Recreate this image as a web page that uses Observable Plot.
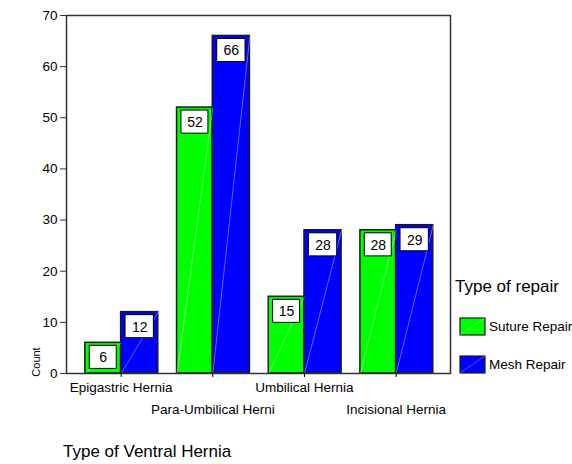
<!DOCTYPE html>
<html>
<head>
<meta charset="utf-8">
<script src="https://cdn.jsdelivr.net/npm/d3@7"></script>
<script src="https://cdn.jsdelivr.net/npm/@observablehq/plot@0.6"></script>
<style>
  html, body { margin: 0; padding: 0; background: #fff; }
  #wrap { position: relative; width: 572px; height: 464px; font-family: "Liberation Sans", Arial, sans-serif; }
  #wrap svg.overlay { position: absolute; left: 0; top: 0; pointer-events: none; }
</style>
</head>
<body>
<div id="wrap"></div>
<script>
const categories = ["Epigastric Hernia", "Para-Umbilical Herni", "Umbilical Hernia", "Incisional Hernia"];
const repairTypes = ["Suture Repair", "Mesh Repair"];
const sutureCounts = [6, 52, 15, 28];
const meshCounts = [12, 66, 28, 29];
const repairColors = ["#00ff00", "#0000ff"];
const yTicks = [0, 10, 20, 30, 40, 50, 60, 70];
const xTitle = "Type of Ventral Hernia";
const yTitle = "Count";
const legendTitle = "Type of repair";

const seriesValues = [sutureCounts, meshCounts];
const rows = [];
categories.forEach((category, i) => {
  repairTypes.forEach((type, j) => {
    rows.push({
      i, category, type,
      count: seriesValues[j][i],
      x1: j === 0 ? i - 0.39 : i,
      x2: j === 0 ? i : i + 0.405,
      xc: j === 0 ? i - 0.195 : i + 0.2025
    });
  });
});

const font = "'Liberation Sans', Arial, sans-serif";

const chart = Plot.plot({
  width: 572,
  height: 464,
  marginLeft: 66,
  marginRight: 122,
  marginTop: 15,
  marginBottom: 91,
  style: { fontFamily: font, fontSize: "13.5px", color: "#000", background: "#fff" },
  x: { type: "linear", domain: [-0.596, 3.593] },
  y: { domain: [0, 70] },
  color: { domain: repairTypes, range: repairColors },
  marks: [
    Plot.rect(rows, { x1: "x1", x2: "x2", y1: 0, y2: "count", fill: "type", stroke: "#1a1a1a", strokeWidth: 1.5 }),
    Plot.link(rows, { x1: "x1", y1: 0, x2: "x2", y2: "count", stroke: "#ffffff", strokeOpacity: 0.55, strokeWidth: 0.7 }),
    Plot.rect(rows, { x1: "x1", x2: "x2", y1: d => d.count - 5.1, y2: "count", insetLeft: 4.4, insetRight: 4.4, insetTop: 3, fill: "#fff", stroke: "#000", strokeWidth: 1 }),
    Plot.text(rows, { x: "xc", y: "count", dy: 15, text: d => String(d.count), fontSize: 14, fill: "#000" }),
    Plot.frame({ stroke: "#333", strokeWidth: 1.5 }),
    Plot.axisY({ ticks: yTicks, tickSize: 6, tickPadding: 3, label: null, stroke: "#333", fontSize: 13.5 }),
    Plot.axisX({ ticks: [0, 1, 2, 3], tickFormat: i => (i % 2 === 0 ? categories[i] : ""), tickSize: 4, tickPadding: 4.5, label: null, fontSize: 13.5 }),
    Plot.axisX({ ticks: [1, 3], tickFormat: i => categories[i], tickSize: 0, tickPadding: 31, label: null, fontSize: 13.5 })
  ]
});

const wrap = document.getElementById("wrap");
wrap.appendChild(chart);

// Overlay: titles and legend
const ns = "http://www.w3.org/2000/svg";
const ov = d3.select(wrap).append("svg")
  .attr("class", "overlay")
  .attr("width", 572).attr("height", 464)
  .style("font-family", font);

ov.append("text").attr("x", 63).attr("y", 457).attr("font-size", 17).text(xTitle);
ov.append("text").attr("transform", "translate(40,362) rotate(-90)").attr("text-anchor", "middle")
  .attr("font-size", 11).text(yTitle);

ov.append("text").attr("x", 455).attr("y", 292).attr("font-size", 17).text(legendTitle);
const legendY = [318, 356];
repairTypes.forEach((t, j) => {
  const g = ov.append("g").attr("transform", `translate(460,${legendY[j]})`);
  g.append("rect").attr("width", 25).attr("height", 17).attr("fill", repairColors[j]).attr("stroke", "#1a1a1a").attr("stroke-width", 1.2);
  g.append("line").attr("x1", 0).attr("y1", 17).attr("x2", 25).attr("y2", 0).attr("stroke", "#fff").attr("stroke-opacity", 0.5).attr("stroke-width", 0.6);
  g.append("text").attr("x", 29).attr("y", 13).attr("font-size", 13.5).text(t);
});
</script>
</body>
</html>
